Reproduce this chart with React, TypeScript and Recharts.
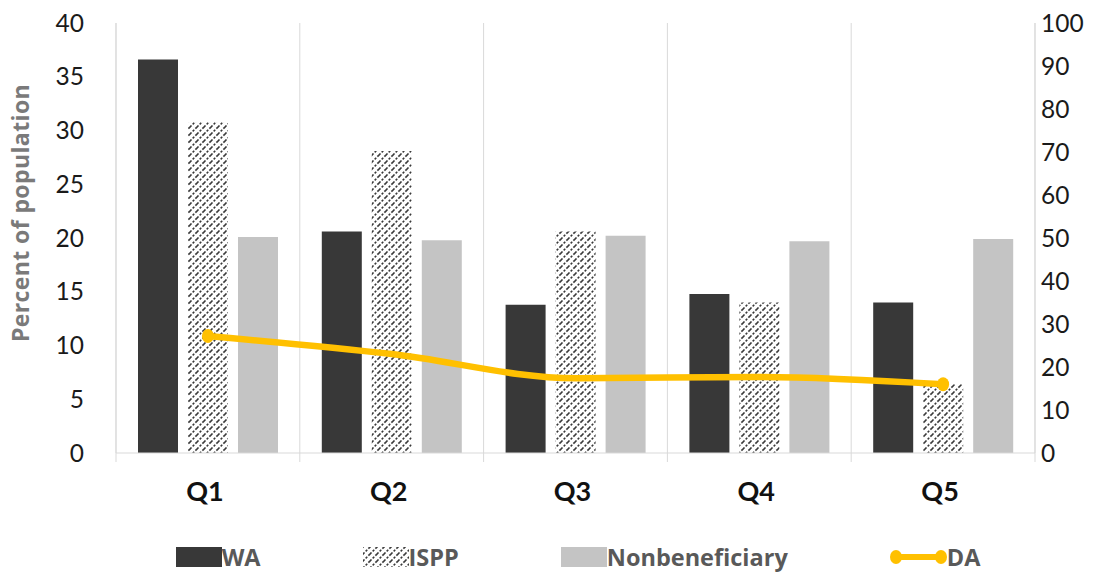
import { ComposedChart, Bar, Line, XAxis, YAxis, CartesianGrid, Legend, Label } from 'recharts'

const quintiles = ['Q1', 'Q2', 'Q3', 'Q4', 'Q5']
const waValues = [36.6, 20.6, 13.8, 14.8, 14.0]
const isppValues = [30.8, 28.1, 20.6, 14.0, 6.4]
const nonbeneficiaryValues = [20.1, 19.8, 20.2, 19.7, 19.9]
const daValues = [27.2, 23.0, 17.4, 17.7, 16.0]

const leftTicks = [0, 5, 10, 15, 20, 25, 30, 35, 40]
const rightTicks = [0, 10, 20, 30, 40, 50, 60, 70, 80, 90, 100]

const chartData = quintiles.map((name, i) => ({
  name,
  WA: waValues[i],
  ISPP: isppValues[i],
  Nonbeneficiary: nonbeneficiaryValues[i],
  DA: daValues[i],
}))

const WIDTH = 1104
const HEIGHT = 568
const LEFT_AXIS = 108
const RIGHT_AXIS = 77
const BAND = (WIDTH - LEFT_AXIS - RIGHT_AXIS) / quintiles.length

const DARK = '#383838'
const LIGHT = '#c4c4c4'
const GOLD = '#ffc000'
const GRID = '#d9d9d9'
const NUM_FONT = 'Lato, "Open Sans", sans-serif'
const LABEL_FONT = '"Open Sans", Lato, sans-serif'

// dashed upward diagonal hatch
function HatchPattern({ id }: { id: string }) {
  return (
    <pattern id={id} patternUnits="userSpaceOnUse" width={7} height={7}>
      <rect width={7} height={7} fill="#fff" />
      <g stroke="#3a3a3a" strokeWidth={1.6} strokeDasharray="2.2 1.6">
        <line x1={0} y1={7} x2={7} y2={0} />
        <line x1={-1} y1={1} x2={1} y2={-1} />
        <line x1={6} y1={8} x2={8} y2={6} />
      </g>
    </pattern>
  )
}

// category label plus the short tick marks between categories
function QuintileTick(props: any) {
  const { x, y, payload, index } = props
  const last = index === quintiles.length - 1
  return (
    <g>
      <line x1={x - BAND / 2} y1={y} x2={x - BAND / 2} y2={y + 9} stroke={GRID} />
      {last && <line x1={x + BAND / 2} y1={y} x2={x + BAND / 2} y2={y + 9} stroke={GRID} />}
      <text x={x - 3} y={y + 48} textAnchor="middle" fontFamily={NUM_FONT} fontWeight={700} fontSize={27} fill="#111">
        {payload.value}
      </text>
    </g>
  )
}

// only the end points of the DA line carry a marker
function EndDot(props: any) {
  const { cx, cy, index } = props
  if (index !== 0 && index !== quintiles.length - 1) return <g key={`dot-${index}`} />
  return <ellipse key={`dot-${index}`} cx={cx} cy={cy} rx={6} ry={7} fill={GOLD} />
}

const legendItems = [
  { key: 'WA', kind: 'solid', color: DARK },
  { key: 'ISPP', kind: 'hatch', color: '#333' },
  { key: 'Nonbeneficiary', kind: 'solid', color: LIGHT },
  { key: 'DA', kind: 'line', color: GOLD },
]

function LegendContent() {
  return (
    <div style={{ display: 'flex', justifyContent: 'center', gap: 102, height: 30, alignItems: 'center', paddingLeft: 36 }}>
      {legendItems.map((item) => (
        <div key={item.key} style={{ display: 'flex', alignItems: 'center' }}>
          {item.kind === 'line' ? (
            <svg width={57} height={20}>
              <line x1={6} y1={10} x2={51} y2={10} stroke={GOLD} strokeWidth={6} />
              <ellipse cx={6} cy={10} rx={6} ry={7} fill={GOLD} />
              <ellipse cx={51} cy={10} rx={6} ry={7} fill={GOLD} />
            </svg>
          ) : (
            <svg width={46} height={20}>
              {item.kind === 'hatch' && (
                <defs>
                  <HatchPattern id="hatch-legend" />
                </defs>
              )}
              <rect width={46} height={20} fill={item.kind === 'hatch' ? 'url(#hatch-legend)' : item.color} />
            </svg>
          )}
          <span style={{ fontFamily: LABEL_FONT, fontWeight: 700, fontSize: 23.5, color: '#595959', lineHeight: '30px' }}>
            {item.key}
          </span>
        </div>
      ))}
    </div>
  )
}

// rotated axis title, placed from the axis viewBox
function AxisTitle({ viewBox }: any) {
  const cx = viewBox.x + 13
  const cy = viewBox.y + 190
  return (
    <g transform={`translate(${cx}, ${cy}) rotate(-90)`}>
      <text
        x={0}
        y={8}
        textAnchor="middle"
        fontFamily={LABEL_FONT}
        fontWeight={700}
        fontSize={23}
        letterSpacing={0.4}
        fill="#7a7a7a"
      >
        Percent of population
      </text>
    </g>
  )
}

export default function App() {
  return (
    <ComposedChart
      width={WIDTH}
      height={HEIGHT}
      data={chartData}
      margin={{ top: 15, right: 0, bottom: 4, left: 0 }}
      barSize={40}
      barGap={10}
    >
      <defs>
        <HatchPattern id="hatch-ispp" />
      </defs>
      <CartesianGrid
        horizontal={false}
        stroke={GRID}
        verticalCoordinatesGenerator={({ offset }: any) =>
          quintiles.map((_, i) => offset.left + i * BAND).concat(offset.left + offset.width)
        }
      />
      <XAxis
        dataKey="name"
        height={89}
        tickLine={false}
        tickSize={0}
        tickMargin={0}
        axisLine={{ stroke: GRID }}
        tick={<QuintileTick />}
        interval={0}
      />
      <YAxis
        yAxisId="left"
        width={LEFT_AXIS}
        domain={[0, 40]}
        ticks={leftTicks}
        interval={0}
        tickLine={false}
        tickSize={0}
        tickMargin={32}
        axisLine={{ stroke: GRID }}
        tick={{ fontFamily: NUM_FONT, fontSize: 24.5, fill: '#1a1a1a' }}
      >
        <Label content={AxisTitle} />
      </YAxis>
      <YAxis
        yAxisId="right"
        orientation="right"
        width={RIGHT_AXIS}
        domain={[0, 100]}
        ticks={rightTicks}
        interval={0}
        tickLine={false}
        tickSize={0}
        tickMargin={6}
        axisLine={{ stroke: GRID }}
        tick={{ fontFamily: NUM_FONT, fontSize: 24.5, fill: '#1a1a1a', textAnchor: 'start' }}
      />
      <Legend verticalAlign="bottom" content={<LegendContent />} />
      <Bar yAxisId="left" dataKey="WA" fill={DARK} isAnimationActive={false} />
      <Bar yAxisId="left" dataKey="ISPP" fill="url(#hatch-ispp)" isAnimationActive={false} />
      <Bar yAxisId="left" dataKey="Nonbeneficiary" fill={LIGHT} isAnimationActive={false} />
      <Line
        yAxisId="right"
        dataKey="DA"
        type="monotone"
        stroke={GOLD}
        strokeWidth={6.5}
        dot={<EndDot />}
        activeDot={false}
        isAnimationActive={false}
      />
    </ComposedChart>
  )
}
